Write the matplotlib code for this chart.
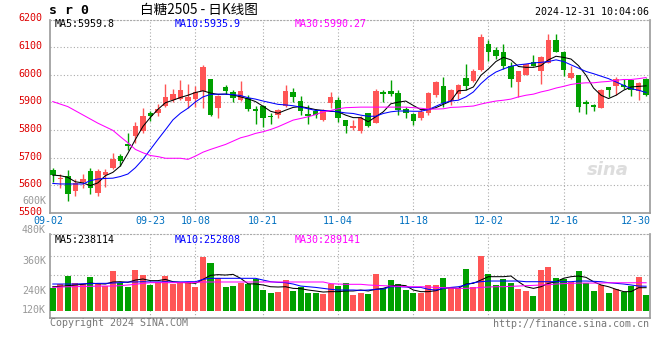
import numpy as np
import matplotlib
matplotlib.use("Agg")
import matplotlib.pyplot as plt
import matplotlib.transforms as mtransforms

# ---- data (SR2505 daily, 2024-09-02 .. 2024-12-31) ----
opens = [5655, 5622, 5634, 5580, 5612, 5652, 5571, 5636, 5664, 5708,
         5748, 5778, 5796, 5860, 5863, 5887, 5908, 5912, 5906, 5914,
         5940, 5985, 5880, 5955, 5936, 5907, 5916, 5878, 5887, 5852,
         5853, 5887, 5938, 5904, 5857, 5868, 5837, 5898, 5910, 5836,
         5807, 5798, 5860, 5826, 5937, 5943, 5933, 5877, 5858, 5845,
         5860, 5927, 5961, 5904, 5929, 5989, 5976, 6018, 6111, 6090,
         6083, 6030, 5974, 6000, 6048, 6012, 6043, 6126, 6083, 5989,
         5998, 5900, 5891, 5881, 5955, 5960, 5964, 5980, 5943, 5986]
highs = [5662, 5642, 5654, 5622, 5640, 5664, 5658, 5658, 5718, 5712,
         5790, 5829, 5880, 5869, 5893, 5965, 5950, 5981, 5968, 5958,
         6034, 5986, 5928, 5962, 5946, 5979, 5928, 5888, 5890, 5860,
         5878, 5962, 5952, 5925, 5889, 5877, 5877, 5937, 5921, 5838,
         5836, 5850, 5862, 5949, 5945, 5981, 5945, 5883, 5860, 5877,
         5937, 5976, 5993, 5948, 5968, 6039, 6021, 6149, 6126, 6101,
         6111, 6045, 6012, 6039, 6071, 6069, 6146, 6149, 6087, 6033,
         5998, 5908, 5896, 5950, 5956, 5992, 5983, 5986, 5974, 5989]
lows = [5612, 5590, 5543, 5561, 5592, 5567, 5561, 5595, 5658, 5670,
        5728, 5754, 5790, 5832, 5850, 5882, 5902, 5908, 5880, 5882,
        5880, 5852, 5843, 5932, 5900, 5904, 5870, 5823, 5812, 5823,
        5842, 5883, 5901, 5854, 5821, 5842, 5833, 5881, 5830, 5788,
        5802, 5791, 5812, 5824, 5901, 5925, 5854, 5845, 5818, 5836,
        5854, 5921, 5883, 5890, 5914, 5944, 5974, 6013, 6049, 6057,
        6021, 5956, 5920, 5998, 6030, 5968, 6042, 6081, 5995, 5983,
        5864, 5857, 5870, 5879, 5920, 5926, 5948, 5923, 5908, 5924]
closes = [5636, 5627, 5570, 5610, 5622, 5592, 5652, 5648, 5694, 5688,
          5742, 5814, 5850, 5851, 5875, 5920, 5930, 5944, 5919, 5936,
          6027, 5856, 5922, 5940, 5916, 5940, 5876, 5868, 5842, 5846,
          5873, 5941, 5920, 5869, 5851, 5854, 5872, 5921, 5845, 5816,
          5814, 5845, 5816, 5943, 5931, 5929, 5871, 5862, 5834, 5866,
          5934, 5974, 5898, 5945, 5964, 5958, 6015, 6137, 6081, 6067,
          6031, 5986, 6012, 6039, 6033, 6065, 6126, 6083, 6018, 6007,
          5885, 5894, 5882, 5944, 5944, 5986, 5956, 5944, 5971, 5926]

# moving averages as drawn on the reference
ma5 = [5637, 5635, 5629, 5613, 5609, 5599, 5609, 5635, 5647, 5670,
       5716, 5766, 5813, 5846, 5875, 5899, 5908, 5918, 5926, 5936,
       5942, 5934, 5929, 5930, 5927, 5920, 5913, 5903, 5886, 5868,
       5861, 5872, 5882, 5885, 5880, 5874, 5871, 5868, 5866, 5854,
       5845, 5845, 5830, 5848, 5866, 5895, 5901, 5905, 5889, 5874,
       5874, 5881, 5893, 5905, 5942, 5944, 5956, 5998, 6021, 6048,
       6063, 6054, 6030, 6027, 6027, 6033, 6054, 6067, 6063, 6057,
       6033, 5998, 5952, 5926, 5914, 5926, 5944, 5956, 5958, 5960]
ma10 = [5607, 5605, 5605, 5605, 5605, 5617, 5623, 5625, 5626, 5632,
        5641, 5664, 5694, 5730, 5766, 5801, 5837, 5861, 5879, 5902,
        5920, 5929, 5930, 5930, 5928, 5925, 5917, 5912, 5905, 5899,
        5893, 5891, 5888, 5883, 5877, 5871, 5871, 5869, 5866, 5862,
        5860, 5854, 5850, 5850, 5860, 5866, 5869, 5869, 5868, 5868,
        5874, 5886, 5898, 5905, 5908, 5920, 5938, 5968, 5992, 6010,
        6021, 6031, 6036, 6039, 6043, 6045, 6048, 6054, 6048, 6036,
        6024, 6012, 6004, 5995, 5986, 5974, 5962, 5950, 5944, 5936]
ma30 = [5903, 5894, 5885, 5870, 5855, 5840, 5825, 5812, 5799, 5776,
        5754, 5730, 5718, 5708, 5704, 5698, 5698, 5698, 5694, 5706,
        5720, 5730, 5739, 5748, 5760, 5772, 5779, 5788, 5794, 5802,
        5812, 5824, 5836, 5842, 5848, 5856, 5866, 5871, 5877, 5881,
        5882, 5883, 5883, 5883, 5883, 5883, 5883, 5883, 5881, 5879,
        5876, 5876, 5877, 5882, 5883, 5885, 5887, 5894, 5900, 5905,
        5908, 5912, 5920, 5926, 5930, 5938, 5944, 5952, 5958, 5965,
        5969, 5971, 5971, 5974, 5976, 5980, 5983, 5983, 5986, 5990]

# volume in thousand lots
volumes = [238, 273, 362, 290, 279, 348, 276, 252, 411, 286,
           245, 421, 373, 262, 300, 362, 276, 297, 293, 245,
           559, 497, 338, 245, 255, 290, 279, 328, 217, 186,
           193, 317, 207, 241, 186, 179, 176, 276, 255, 283,
           162, 186, 173, 380, 238, 317, 279, 214, 186, 186,
           266, 266, 338, 231, 231, 431, 241, 569, 383, 266,
           328, 286, 224, 203, 155, 421, 455, 341, 324, 300,
           411, 290, 203, 266, 186, 224, 193, 255, 348, 162]
vma5 = [248, 252, 259, 266, 273, 286, 279, 276, 297, 300,
        293, 317, 328, 311, 311, 324, 300, 293, 290, 283,
        324, 366, 373, 369, 376, 335, 279, 276, 266, 248,
        245, 248, 231, 228, 214, 204, 193, 197, 197, 204,
        204, 214, 204, 221, 231, 255, 266, 259, 214, 197,
        197, 207, 231, 238, 231, 276, 283, 317, 352, 352,
        352, 359, 300, 248, 231, 248, 283, 300, 335, 352,
        359, 345, 300, 266, 248, 221, 197, 197, 238, 238]
vma10 = [276, 276, 276, 276, 279, 279, 283, 283, 286, 290,
         297, 297, 300, 297, 297, 300, 297, 297, 300, 300,
         324, 335, 335, 335, 335, 335, 335, 335, 317, 300,
         293, 290, 276, 255, 248, 241, 231, 221, 214, 214,
         214, 210, 214, 221, 224, 248, 248, 245, 241, 241,
         221, 214, 231, 241, 248, 266, 290, 300, 307, 307,
         307, 307, 307, 300, 300, 300, 300, 300, 300, 300,
         307, 307, 304, 300, 290, 283, 276, 266, 255, 253]
vma30 = [241, 245, 248, 248, 252, 252, 255, 255, 255, 259,
         266, 273, 283, 290, 290, 290, 290, 290, 290, 293,
         297, 297, 297, 297, 297, 297, 297, 297, 297, 297,
         297, 297, 297, 297, 297, 297, 297, 280, 276, 273,
         273, 273, 266, 262, 259, 255, 252, 248, 248, 248,
         245, 241, 238, 234, 231, 231, 234, 241, 245, 248,
         248, 252, 255, 259, 262, 266, 269, 276, 280, 283,
         286, 286, 286, 286, 289, 289, 289, 289, 289, 289]

date_idx = [13, 19, 28, 38, 48, 58, 68]
date_lbl = ["09-23", "10-08", "10-21", "11-04", "11-18", "12-02", "12-16"]
price_ticks = [5500, 5600, 5700, 5800, 5900, 6000, 6100, 6200]
vol_lbl = ["600K", "480K", "360K", "240K", "120K"]

RED = "#ff5555"
GREEN = "#00a000"
MONO = "DejaVu Sans Mono"
CJK = ["Noto Sans CJK SC", "DejaVu Sans"]
FS = 7.2
LW = 0.75

W, H = 660, 360
fig = plt.figure(figsize=(W / 100, H / 100), dpi=100)
fig.patch.set_facecolor("white")


def rect(l, t, r, b):
    return [l / W, 1 - b / H, (r - l) / W, (b - t) / H]


ax = fig.add_axes(rect(50, 19.5, 649.5, 213))
axv = fig.add_axes(rect(50, 234, 649.5, 318.3))

n = len(closes)
x = np.arange(n)
o = np.array(opens)
c = np.array(closes)
up = c >= o
cols = np.where(up, RED, GREEN)

# candles
ax.vlines(x, lows, highs, colors=cols, linewidth=1, zorder=3)
body_h = np.maximum(np.abs(c - o), 1.5)
ax.bar(x, body_h, bottom=np.minimum(o, c), width=0.74, color=cols,
       edgecolor=cols, linewidth=0, zorder=4)
ax.plot(x, ma5, color="black", lw=LW, zorder=5)
ax.plot(x, ma10, color="#0000ff", lw=LW, zorder=5)
ax.plot(x, ma30, color="#ff00ff", lw=LW, zorder=5)

ax.set_xlim(-0.37, 79.45)
ax.set_ylim(5500, 6200)
ax.set_yticks(price_ticks)
ax.set_xticks(date_idx)
ax.tick_params(length=0, labelleft=False, labelbottom=False)
ax.grid(True, color="#aaaaaa", linestyle=(0, (1, 2)), linewidth=0.8)
ax.set_axisbelow(True)

# volume
axv.bar(x, volumes, width=0.8, color=cols, linewidth=0, zorder=3)
axv.plot(x, vma5, color="black", lw=LW, zorder=5)
axv.plot(x, vma10, color="#0000ff", lw=LW, zorder=5)
axv.plot(x, vma30, color="#ff00ff", lw=LW, zorder=5)
axv.set_xlim(-0.37, 79.45)
axv.set_ylim(-79, 794)
axv.set_yticks([369, 569])
axv.set_xticks(date_idx)
axv.tick_params(length=0, labelleft=False, labelbottom=False)
axv.grid(True, color="#aaaaaa", linestyle=(0, (1, 2)), linewidth=0.8)
axv.set_axisbelow(True)

for a in (ax, axv):
    for side in ("left", "bottom", "right"):
        a.spines[side].set_color("#999999")
        a.spines[side].set_linewidth(1.2)
    a.spines["top"].set_color("#aaaaaa")
    a.spines["top"].set_linestyle((0, (1, 2)))
    a.spines["top"].set_linewidth(0.8)

# price labels (red, left)
yb = mtransforms.blended_transform_factory(ax.transAxes, ax.transData)
for p in price_ticks:
    ax.text(-0.012, p + 4, str(p), transform=yb, ha="right", va="center",
            color="#dd0000", fontsize=FS, family=MONO)

# volume labels (grey, odd Sina spacing)
for lbl, yy in zip(vol_lbl, [200.5, 230, 260.5, 291, 310]):
    fig.text(46 / W, 1 - yy / H, lbl, ha="right", va="center", color="#999999",
             fontsize=FS, family=MONO)

# date labels
tb = mtransforms.blended_transform_factory(ax.transData, fig.transFigure)
ax.text(-0.6, 1 - 221.5 / H, "09-02", transform=tb, ha="center", va="center",
        color="#0070c0", fontsize=FS, family=MONO)
for i, lbl in zip(date_idx, date_lbl):
    ax.text(i, 1 - 221.5 / H, lbl, transform=tb, ha="center", va="center",
            color="#0070c0", fontsize=FS, family=MONO)
ax.text(77.6, 1 - 221.5 / H, "12-30", transform=tb, ha="center", va="center",
        color="#0070c0", fontsize=FS, family=MONO)

# legends
fig.text(55 / W, 1 - 24 / H, "MA5:5959.8", va="center", fontsize=FS, family=MONO, color="black")
fig.text(175 / W, 1 - 24 / H, "MA10:5935.9", va="center", fontsize=FS, family=MONO, color="#0000ff")
fig.text(295 / W, 1 - 24 / H, "MA30:5990.27", va="center", fontsize=FS, family=MONO, color="#ff00ff")
fig.text(55 / W, 1 - 240 / H, "MA5:238114", va="center", fontsize=FS, family=MONO, color="black")
fig.text(175 / W, 1 - 240 / H, "MA10:252808", va="center", fontsize=FS, family=MONO, color="#0000ff")
fig.text(295 / W, 1 - 240 / H, "MA30:289141", va="center", fontsize=FS, family=MONO, color="#ff00ff")

# header
fig.text(49 / W, 1 - 11 / H, "s r 0", va="center", fontsize=9.5, family=MONO,
         fontweight="bold", color="black")
fig.text(140 / W, 1 - 10 / H, "白糖2505 - 日K线图", va="center", fontsize=9.8,
         family=CJK, color="black")
fig.text(649 / W, 1 - 12 / H, "2024-12-31 10:04:06", ha="right", va="center",
         fontsize=FS, family=MONO, color="black")

# watermark
ax.text(0.965, 0.22, "sina", transform=ax.transAxes, ha="right", va="center",
        fontsize=13, style="italic", fontweight="bold", color="#dddddd", zorder=1)

# footer
fig.text(50 / W, 1 - 323.5 / H, "Copyright 2024 SINA.COM", va="center",
         fontsize=FS, family=MONO, color="#777777")
fig.text(649 / W, 1 - 324 / H, "http://finance.sina.com.cn", ha="right", va="center",
         fontsize=FS, family=MONO, color="#777777")

fig.savefig("out.png", dpi=100, facecolor="white")
